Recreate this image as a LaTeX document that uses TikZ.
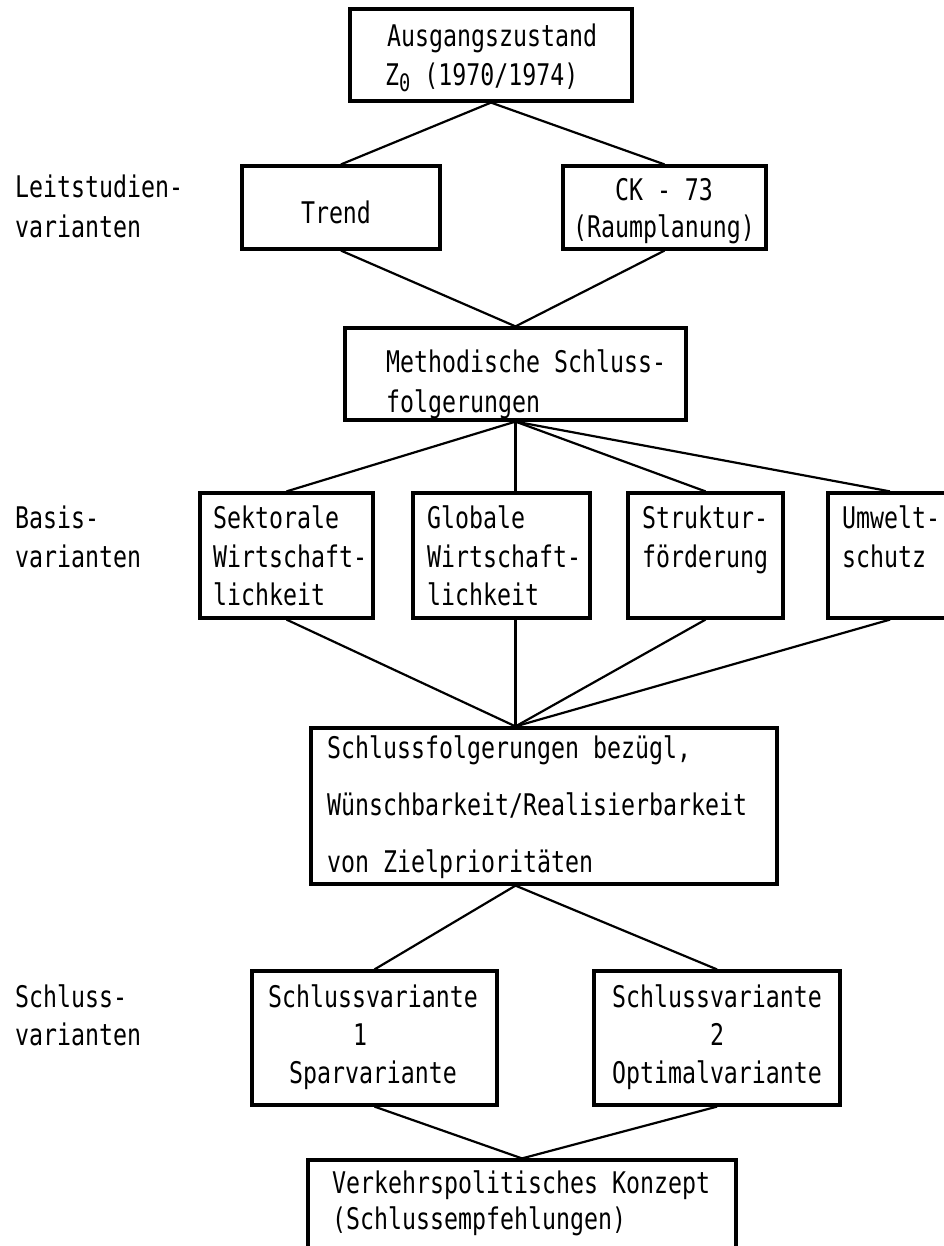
\documentclass[tikz,border=0pt]{standalone}
\usepackage{fontspec}
\newfontfamily\tw[FakeStretch=0.78]{DejaVu Sans Mono}
\begin{document}
\begin{tikzpicture}[x=1pt,y=-1pt,
  box/.style={draw, line width=3.2pt, inner sep=0pt},
  conn/.style={line width=2.2pt},
  txt/.style={font=\tw\fontsize{29.8}{36}\selectfont, inner sep=0pt}]
\useasboundingbox (0,0) rectangle (943,1246);
\fill[white] (0,0) rectangle (943,1246);
% boxes
\node[box, minimum width=282pt, minimum height=92pt] (top) at (491,55) {};
\node[box, minimum width=198pt, minimum height=83pt] (trend) at (341,207.5) {};
\node[box, minimum width=203pt, minimum height=83pt] (ck) at (664.5,207.5) {};
\node[box, minimum width=341pt, minimum height=92pt] (meth) at (515.5,374) {};
\node[box, minimum width=173pt, minimum height=125pt] (sek) at (286.5,555.5) {};
\node[box, minimum width=177pt, minimum height=125pt] (glob) at (501.5,555.5) {};
\node[box, minimum width=155pt, minimum height=125pt] (strukt) at (705.5,555.5) {};
\node[box, minimum width=124pt, minimum height=125pt] (umw) at (890,555.5) {};
\node[box, minimum width=466pt, minimum height=156pt] (sf) at (544,806) {};
\node[box, minimum width=245pt, minimum height=134pt] (sv1) at (374.5,1038) {};
\node[box, minimum width=246pt, minimum height=134pt] (sv2) at (717,1038) {};
\node[box, minimum width=428pt, minimum height=92pt] (vk) at (522,1206) {};
\coordinate (sfin) at (meth.south |- sf.north);
\coordinate (sfout) at (sfin |- sf.south);
\coordinate (globin) at (meth.south |- glob.north);
\coordinate (globout) at (sfin |- glob.south);
% connectors
\draw[conn] (trend.north) -- (top.south) -- (ck.north);
\draw[conn] (trend.south) -- (meth.north) -- (ck.south);
\draw[conn] (sek.north) -- (meth.south) -- (strukt.north);
\draw[conn] (meth.south) -- (umw.north);
\draw[conn] (meth.south) -- (globin);
\draw[conn] (sek.south) -- (sfin) -- (strukt.south);
\draw[conn] (sfin) -- (umw.south);
\draw[conn] (globout) -- (sfin);
\draw[conn] (sv1.north) -- (sfout) -- (sv2.north);
\draw[conn] (sv1.south) -- (vk.north) -- (sv2.south);
% texts
\node[txt, anchor=base west] (t1) at (387,47) {Ausgangszustand};
\node[txt, anchor=base west] (t2) at (385,86) {Z\raisebox{-6pt}{\fontsize{24}{24}\selectfont 0}\ (1970/1974)};
\node[txt, anchor=base west] (l1) at (15,198) {Leitstudien-};
\node[txt, anchor=base west] (l2) at (15,238) {varianten};
\node[txt, anchor=base] (t3) at (336,224) {Trend};
\node[txt, anchor=base] (t4) at (664,201) {CK - 73};
\node[txt, anchor=base] (t5) at (664,238) {(Raumplanung)};
\node[txt, anchor=base west] (t6) at (386,372) {Methodische Schluss-};
\node[txt, anchor=base west] (t7) at (386,412) {folgerungen};
\node[txt, anchor=base west] (l3) at (15,528) {Basis-};
\node[txt, anchor=base west] (l4) at (15,567) {varianten};
\node[txt, anchor=base west] (t8) at (213,528) {Sektorale};
\node[txt, anchor=base west] (t9) at (213,567) {Wirtschaft-};
\node[txt, anchor=base west] (t10) at (213,605) {lichkeit};
\node[txt, anchor=base west] (t11) at (427,528) {Globale};
\node[txt, anchor=base west] (t12) at (427,567) {Wirtschaft-};
\node[txt, anchor=base west] (t13) at (427,605) {lichkeit};
\node[txt, anchor=base west] (t14) at (642,528) {Struktur-};
\node[txt, anchor=base west] (t15) at (642,567) {förderung};
\node[txt, anchor=base west] (t16) at (842,528) {Umwelt-};
\node[txt, anchor=base west] (t17) at (842,567) {schutz};
\node[txt, anchor=base west] (t18) at (327,758) {Schlussfolgerungen bezügl,};
\node[txt, anchor=base west] (t19) at (327,815) {Wünschbarkeit/Realisierbarkeit};
\node[txt, anchor=base west] (t20) at (327,872) {von Zielprioritäten};
\node[txt, anchor=base west] (l5) at (15,1007) {Schluss-};
\node[txt, anchor=base west] (l6) at (15,1045) {varianten};
\node[txt, anchor=base] (t21) at (373,1007) {Schlussvariante};
\node[txt, anchor=base] (t22) at (360,1045) {1};
\node[txt, anchor=base] (t23) at (373,1083) {Sparvariante};
\node[txt, anchor=base] (t24) at (717,1007) {Schlussvariante};
\node[txt, anchor=base] (t25) at (717,1045) {2};
\node[txt, anchor=base] (t26) at (717,1083) {Optimalvariante};
\node[txt, anchor=base west] (t27) at (332,1193) {Verkehrspolitisches Konzept};
\node[txt, anchor=base west] (t28) at (332,1229) {(Schlussempfehlungen)};
\end{tikzpicture}
\end{document}
